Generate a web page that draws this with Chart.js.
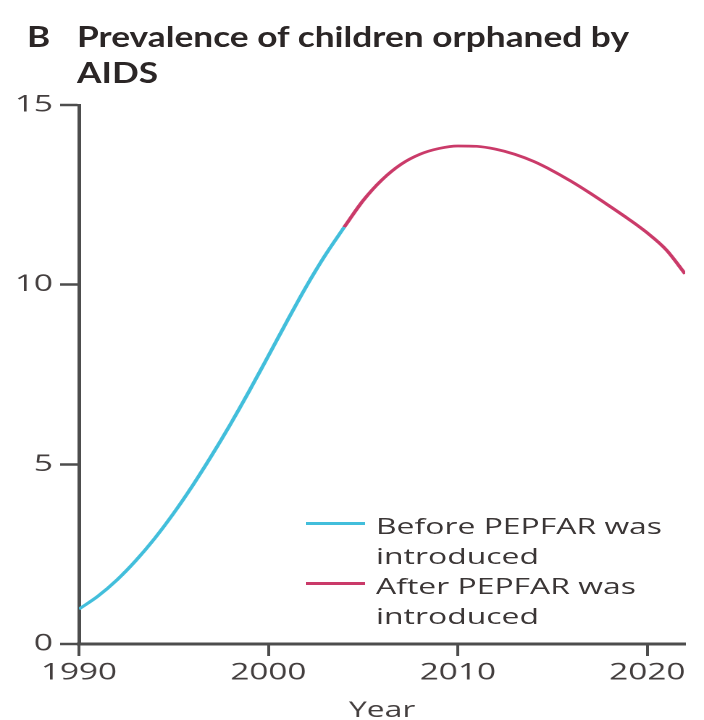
<!DOCTYPE html>
<html>
<head>
<meta charset="utf-8">
<script src="https://cdn.jsdelivr.net/npm/chart.js@4"></script>
<style>
  html, body { margin: 0; padding: 0; background: #fff; }
  #wrap { position: relative; width: 704px; height: 720px; overflow: hidden; }
  #plot { position: absolute; left: 0; top: 0; width: 704px; height: 720px; }
  .head {
    position: absolute; top: 18px; margin: 0;
    font-family: Lato, "Open Sans", sans-serif; font-weight: 700;
    font-size: 28px; line-height: 36px; color: #2b2626;
    transform-origin: 0 0; transform: scaleX(1.26); white-space: nowrap;
  }
  #panel { left: 27px; }
  #title { left: 77px; }
  #legend { position: absolute; left: 306px; top: 510px; }
  .item { position: relative; height: 60px; }
  .swatch { position: absolute; left: 0; top: 12px; width: 59px; height: 3px; }
  .label {
    position: absolute; left: 70px; top: 0; width: 205px;
    font-family: "Open Sans", sans-serif; font-size: 22px; line-height: 30px;
    color: #3b3636; transform-origin: 0 0; transform: scaleX(1.45);
  }
</style>
</head>
<body>
<div id="wrap">
  <canvas id="plot" width="486" height="720" style="width:704px;height:720px"></canvas>
  <div class="head" id="panel">B</div>
  <div class="head" id="title">Prevalence of children orphaned by<br>AIDS</div>
  <div id="legend"></div>
</div>
<script>
// Children orphaned by AIDS, by year
const years = [1990, 1991, 1992, 1993, 1994, 1995, 1996, 1997, 1998, 1999, 2000,
               2001, 2002, 2003, 2004, 2005, 2006, 2007, 2008, 2009, 2010, 2011,
               2012, 2013, 2014, 2015, 2016, 2017, 2018, 2019, 2020, 2021, 2022];
// 1990-2004
const beforeValues = [0.97, 1.33, 1.78, 2.32, 2.94, 3.64, 4.41, 5.24, 6.12, 7.05,
                      8.02, 9.00, 9.95, 10.82, 11.60];
// 2004-2022
const afterValues = [11.60, 12.34, 12.92, 13.35, 13.63, 13.79, 13.86, 13.85, 13.77,
                     13.63, 13.43, 13.17, 12.87, 12.54, 12.19, 11.83, 11.44, 10.97, 10.30];
const seriesLabels = ['Before PEPFAR was introduced', 'After PEPFAR was introduced'];
const xTickValues = [1990, 2000, 2010, 2020];
const yTickValues = [0, 5, 10, 15];
const xTitle = 'Year';

const BLUE = '#42bedb';
const RED = '#ca3a69';
const AXIS = '#4d4d4d';
const TEXT = '#433e3e';

const beforePoints = beforeValues.map((v, i) => ({ x: years[i], y: v }));
const afterPoints = afterValues.map((v, i) => ({ x: years[beforeValues.length - 1 + i], y: v }));

const tickFont = { family: 'Open Sans', size: 23 };

// Legend rendered as HTML from the chart's datasets
const htmlLegend = {
  id: 'htmlLegend',
  afterUpdate(chart) {
    const box = document.getElementById('legend');
    box.innerHTML = '';
    chart.data.datasets.forEach(ds => {
      const item = document.createElement('div');
      item.className = 'item';
      const sw = document.createElement('span');
      sw.className = 'swatch';
      sw.style.background = ds.borderColor;
      const tx = document.createElement('span');
      tx.className = 'label';
      tx.textContent = ds.label;
      item.appendChild(sw);
      item.appendChild(tx);
      box.appendChild(item);
    });
  }
};

new Chart(document.getElementById('plot'), {
  type: 'line',
  data: {
    datasets: [
      { label: seriesLabels[0], data: beforePoints, borderColor: BLUE, borderWidth: 2.7,
        pointRadius: 0, cubicInterpolationMode: 'monotone', fill: false },
      { label: seriesLabels[1], data: afterPoints, borderColor: RED, borderWidth: 2.7,
        pointRadius: 0, cubicInterpolationMode: 'monotone', fill: false }
    ]
  },
  options: {
    responsive: false,
    devicePixelRatio: 2,
    animation: false,
    layout: { padding: { top: 105, right: 13, bottom: 0, left: 0 } },
    plugins: { legend: { display: false }, tooltip: { enabled: false }, title: { display: false } },
    scales: {
      x: {
        type: 'linear', min: 1990, max: 2022,
        afterBuildTicks: s => { s.ticks = xTickValues.map(v => ({ value: v })); },
        afterFit: s => { s.height = 76; },
        grid: { drawOnChartArea: false, drawTicks: true, tickLength: 12, tickWidth: 2, color: AXIS },
        border: { display: true, color: AXIS, width: 3 },
        ticks: { font: tickFont, color: TEXT, padding: 3, maxRotation: 0, autoSkip: false,
                 callback: v => String(v) },
        title: { display: true, text: xTitle, font: { family: 'Open Sans', size: 22 }, color: TEXT,
                 padding: { top: 0, bottom: -4 } }
      },
      y: {
        min: 0, max: 15,
        afterBuildTicks: s => { s.ticks = yTickValues.map(v => ({ value: v })); },
        afterFit: s => { s.width = 54.5; },
        grid: { drawOnChartArea: false, drawTicks: true, tickLength: 13, tickWidth: 2.5, color: AXIS },
        border: { display: true, color: AXIS, width: 2.5 },
        ticks: { font: tickFont, color: TEXT, padding: 5, callback: v => String(v) }
      }
    }
  },
  plugins: [htmlLegend]
});
</script>
</body>
</html>
